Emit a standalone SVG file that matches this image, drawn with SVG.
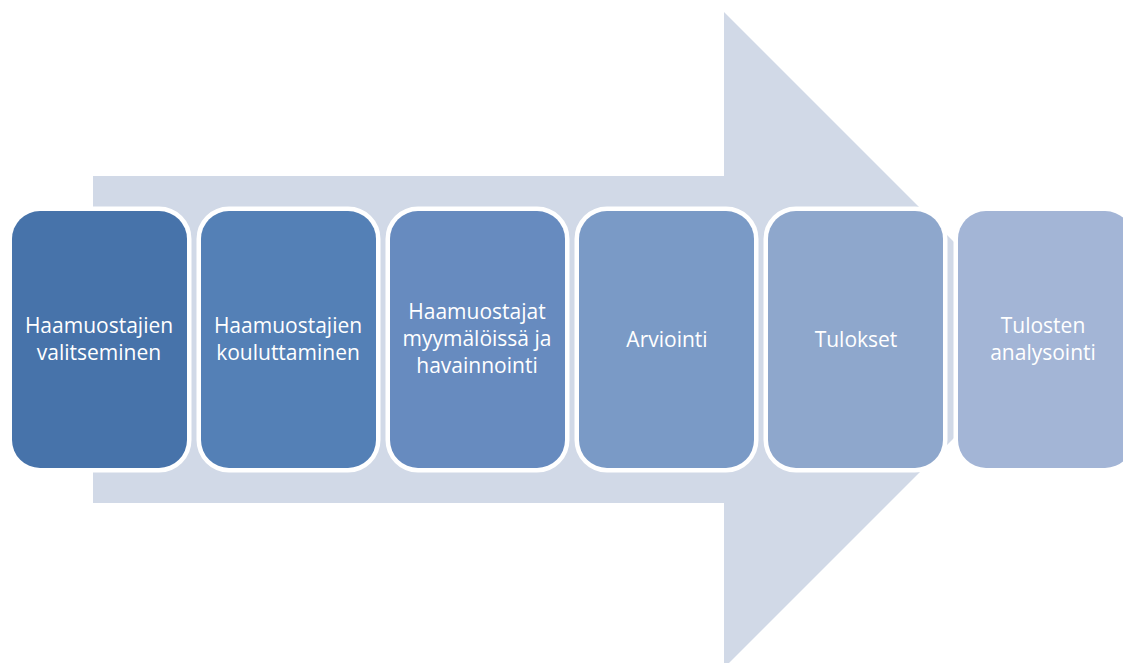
<svg xmlns="http://www.w3.org/2000/svg" width="1123" height="663" viewBox="0 0 1123 663">
  <style>
    .step { stroke: #ffffff; stroke-width: 9; paint-order: stroke; }
    .label { font-family: "Open Sans", "Liberation Sans", sans-serif; font-size: 21px; fill: #ffffff; text-anchor: middle; }
  </style>
  <rect width="1123" height="663" fill="#ffffff"/>

  <!-- background process arrow -->
  <g id="connectors">
    <polygon points="93,176 724,176 724,12 1052,340 724,668 724,503 93,503" fill="#d1d9e7"/>
  </g>

  <g id="step1">
    <rect class="step" x="12" y="211" width="175" height="257" rx="28" fill="#4773aa"/>
    <text class="label" x="99" y="333">Haamuostajien</text>
    <text class="label" x="99" y="360">valitseminen</text>
  </g>
  <g id="step2">
    <rect class="step" x="201" y="211" width="175" height="257" rx="28" fill="#5480b6"/>
    <text class="label" x="288" y="333">Haamuostajien</text>
    <text class="label" x="288" y="360">kouluttaminen</text>
  </g>
  <g id="step3">
    <rect class="step" x="390" y="211" width="175" height="257" rx="28" fill="#678bbf"/>
    <text class="label" x="477" y="319">Haamuostajat</text>
    <text class="label" x="477" y="346">myymälöissä ja</text>
    <text class="label" x="477" y="373">havainnointi</text>
  </g>
  <g id="step4">
    <rect class="step" x="579" y="211" width="175" height="257" rx="28" fill="#7a9ac6"/>
    <text class="label" x="667" y="347">Arviointi</text>
  </g>
  <g id="step5">
    <rect class="step" x="768" y="211" width="175" height="257" rx="28" fill="#8ea7cc"/>
    <text class="label" x="856" y="347">Tulokset</text>
  </g>
  <g id="step6">
    <rect class="step" x="958" y="211" width="175" height="257" rx="28" fill="#a3b5d6"/>
    <text class="label" x="1043" y="333">Tulosten</text>
    <text class="label" x="1043" y="360">analysointi</text>
  </g>
</svg>
